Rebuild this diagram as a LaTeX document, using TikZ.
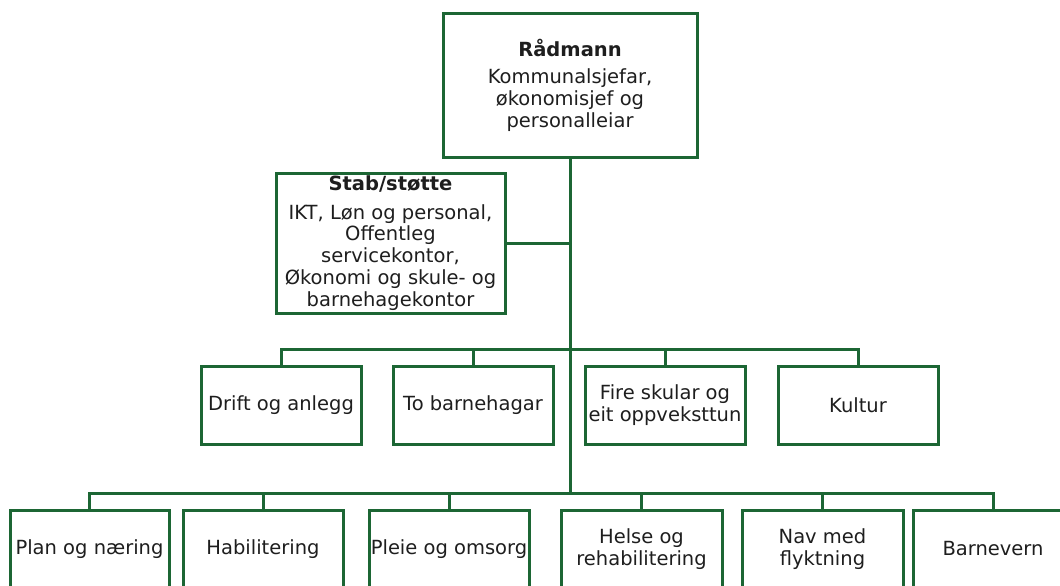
\documentclass[tikz,border=0pt]{standalone}
\usepackage{fontspec}
\setmainfont{DejaVu Sans}
\definecolor{orggreen}{RGB}{28,102,52}
\definecolor{orgtext}{RGB}{30,30,30}
\begin{document}
\begin{tikzpicture}[x=1pt,y=-1pt,
  box/.style={draw=orggreen,line width=3pt,fill=white,inner sep=0pt,align=center,
    text=orgtext,font=\fontsize{19.5}{21.8}\selectfont},
  rowbox/.style={box,minimum width=160pt,minimum height=78pt},
  conn/.style={draw=orggreen,line width=3pt}]
\useasboundingbox (0,0) rectangle (1060,586);
\begin{scope}
\clip (0,0) rectangle (1060,586);
% connectors
\coordinate (tb) at (570,493);
\coordinate (sj) at (570,243);
\coordinate (r2) at (570,349);
% nodes
\node[box,minimum width=254pt,minimum height=143pt] (rad) at (570,85.5)
  {\textbf{Rådmann}\\[5pt]Kommunalsjefar,\\økonomisjef og\\personalleiar};
\node[box,minimum width=229pt,minimum height=140pt] (stab) at (390.5,243)
  {\textbf{Stab/støtte}\\[7pt]IKT, Løn og personal,\\Offentleg\\servicekontor,\\Økonomi og skule- og\\barnehagekontor};
\node[rowbox] (drift) at (281,405) {Drift og anlegg};
\node[rowbox] (barn) at (473,405) {To barnehagar};
\node[rowbox] (fire) at (665,405) {Fire skular og\\eit oppveksttun};
\node[rowbox] (kult) at (858,405) {Kultur};
\node[rowbox,minimum width=159pt] (plan) at (89.5,549) {Plan og næring};
\node[rowbox] (habi) at (263,549) {Habilitering};
\node[rowbox] (pleie) at (449,549) {Pleie og omsorg};
\node[rowbox,minimum width=161pt] (helse) at (641.5,549) {Helse og\\rehabilitering};
\node[rowbox,minimum width=161pt] (nav) at (822.5,549) {Nav med\\flyktning};
\node[rowbox] (barnev) at (993,549) {Barnevern};
% lines
\draw[conn] (rad.south) -- (tb);
\draw[conn] (stab.east) -- (sj);
\draw[conn] (drift.north) |- (r2) -| (kult.north);
\draw[conn] (barn.north) -- (barn.north |- r2);
\draw[conn] (fire.north) -- (fire.north |- r2);
\draw[conn] (plan.north) |- (tb) -| (barnev.north);
\draw[conn] (habi.north) -- (habi.north |- tb);
\draw[conn] (pleie.north) -- (pleie.north |- tb);
\draw[conn] (helse.north) -- (helse.north |- tb);
\draw[conn] (nav.north) -- (nav.north |- tb);
\end{scope}
\end{tikzpicture}
\end{document}
